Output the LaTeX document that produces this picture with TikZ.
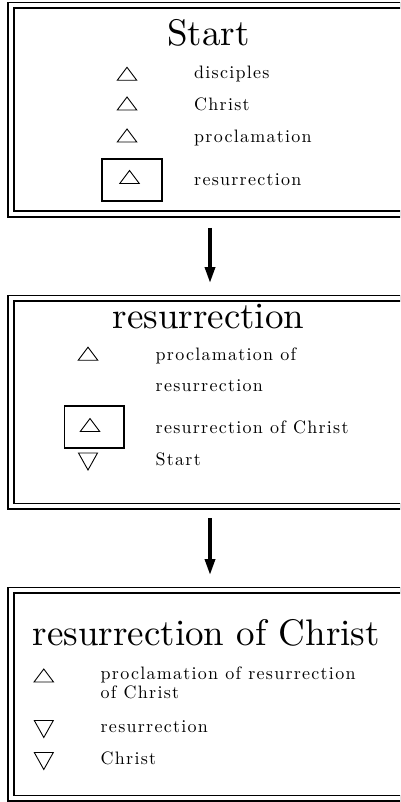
\documentclass[tikz,border=0pt]{standalone}
\usepackage{fontspec}
\usetikzlibrary{arrows.meta}
\newfontfamily\headface{lmroman10-regular.otf}
\newfontfamily\itemface{lmroman10-regular.otf}[LetterSpace=7]
\newcommand\headfont{\headface\fontsize{37}{40}\selectfont}
\newcommand\itemfont{\itemface\fontsize{18}{19}\selectfont}
\tikzset{
  frame/.style={draw, double, double distance=4pt, line width=1.7pt,
    minimum width=395.8pt, inner sep=0pt, outer sep=0pt},
  head/.style={font=\headfont, inner sep=0pt, anchor=base},
  item/.style={font=\itemfont, inner sep=0pt, anchor=base west, align=left},
  markbox/.style={draw, line width=1.7pt, minimum width=59.7pt,
    minimum height=42pt, inner sep=0pt},
  flow/.style={line width=3.5pt, -{Triangle[length=16pt,width=10pt]}},
  uptri/.pic={\draw[line width=0.9pt] (-9.75,6.5) -- (9.75,6.5) -- (0,-6.5) -- cycle;},
  downtri/.pic={\draw[line width=0.9pt] (-9.5,-8.5) -- (9.5,-8.5) -- (0,8.5) -- cycle;},
}
\begin{document}
\begin{tikzpicture}[x=1pt, y=-1pt]
  \useasboundingbox (0,0) rectangle (400,802);
  \clip (0,0) rectangle (400,802);

  % three framed states
  \node[frame, minimum height=208.4pt] (box1) at (209,109.7) {};
  \node[frame, minimum height=208pt]   (box2) at (209,402.3) {};
  \node[frame, minimum height=208pt]   (box3) at (209,694.3) {};

  % transitions
  \draw[flow, shorten <=14.1pt, shorten >=15.3pt]
    ([xshift=1pt]box1.south) -- ([xshift=1pt]box2.north);
  \draw[flow, shorten <=12pt, shorten >=15.3pt]
    ([xshift=1pt]box2.south) -- ([xshift=1pt]box3.north);

  % state: Start
  \node[head] (t1) at (208.5,45.7) {Start};
  \pic (u11) at (127,73.8) {uptri};
  \node[item] (a1) at (194,79) {disciples};
  \pic (u12) at (127,103.5) {uptri};
  \node[item] (a2) at (194,111) {Christ};
  \pic (u13) at (127,135.5) {uptri};
  \node[item] (a3) at (194,143) {proclamation};
  \node[markbox] (m1) at (132,180) {};
  \pic (u14) at (129.5,177) {uptri};
  \node[item] (a4) at (194,185.5) {resurrection};

  % state: resurrection (multi-line nodes sit on their last baseline)
  \node[head] (t2) at (208.5,328) {resurrection};
  \pic (u21) at (88,353.7) {uptri};
  \node[item] (b1) at (155.5,391.7) {proclamation of\\[12.7pt]resurrection};
  \node[markbox] (m2) at (94.2,426.7) {};
  \pic (u22) at (90,425) {uptri};
  \node[item] (b2) at (155.5,433.3) {resurrection of Christ};
  \pic (d21) at (88,461.5) {downtri};
  \node[item] (b3) at (155.5,465) {Start};

  % state: resurrection of Christ
  \node[head, anchor=base west] (t3) at (32.5,645) {resurrection of Christ};
  \pic (u31) at (43.8,675.5) {uptri};
  \node[item] (c1) at (100.5,698.3) {proclamation of resurrection\\of Christ};
  \pic (d31) at (43.8,729) {downtri};
  \node[item] (c2) at (100.5,732.7) {resurrection};
  \pic (d32) at (43.8,761) {downtri};
  \node[item] (c3) at (100.5,764.3) {Christ};
\end{tikzpicture}
\end{document}
